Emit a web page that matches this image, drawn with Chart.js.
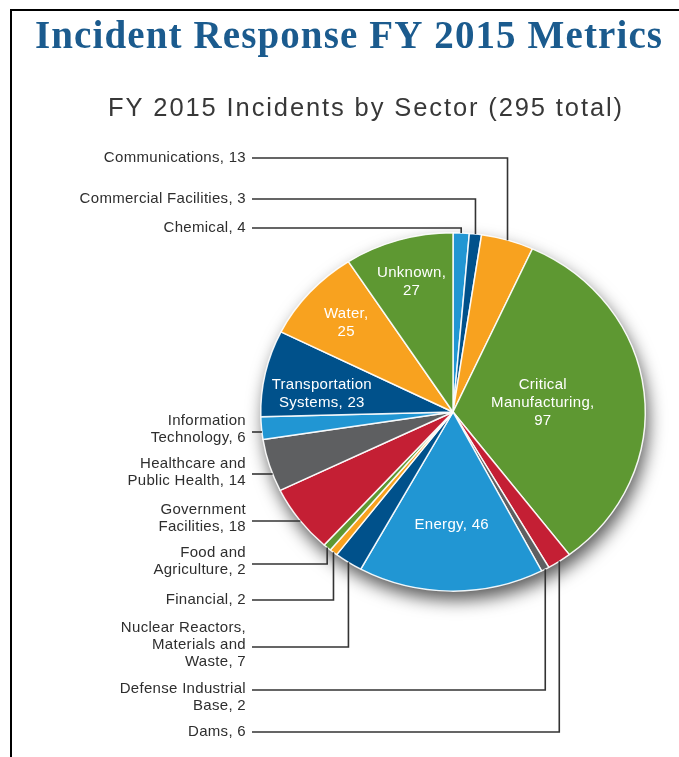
<!DOCTYPE html>
<html lang="en">
<head>
<meta charset="UTF-8">
<title>Incident Response FY 2015 Metrics</title>
<script src="https://cdn.jsdelivr.net/npm/chart.js"></script>
<style>
  html, body { margin: 0; padding: 0; background: #fff; }
  #sectorChart { display: block; }
</style>
</head>
<body>
<canvas id="sectorChart" width="679" height="757"></canvas>
<script>
// sectors run clockwise from 12 o'clock
var sectors = ['Chemical', 'Commercial Facilities', 'Communications', 'Critical Manufacturing',
  'Dams', 'Defense Industrial Base', 'Energy', 'Nuclear Reactors, Materials and Waste',
  'Financial', 'Food and Agriculture', 'Government Facilities', 'Healthcare and Public Health',
  'Information Technology', 'Transportation Systems', 'Water', 'Unknown'];
var incidents = [4, 3, 13, 97, 6, 2, 46, 7, 2, 2, 18, 14, 6, 23, 25, 27];

// how each label is written: '|' breaks a line, {v} is the count
var labelFormats = ['Chemical, {v}', 'Commercial Facilities, {v}', 'Communications, {v}',
  'Critical|Manufacturing,|{v}', 'Dams, {v}', 'Defense Industrial|Base, {v}', 'Energy, {v}',
  'Nuclear Reactors,|Materials and|Waste, {v}', 'Financial, {v}', 'Food and|Agriculture, {v}',
  'Government|Facilities, {v}', 'Healthcare and|Public Health, {v}', 'Information|Technology, {v}',
  'Transportation|Systems, {v}', 'Water,|{v}', 'Unknown,|{v}'];

var palette = ['#2196d3', '#00518b', '#f8a21f', '#5e9832', '#c41f34', '#5e5f61'];
var totalIncidents = incidents.reduce(function(a, b) { return a + b; }, 0);

// label layout: inside = fraction of radius, otherwise a left column label with a leader line
var placement = [
  { leader: 'down', y: 228, textY: 228 },
  { leader: 'down', y: 199, textY: 199 },
  { leader: 'down', y: 158, textY: 158 },
  { inside: 0.47 },
  { leader: 'up', y: 732, textY: 732 },
  { leader: 'up', y: 690, textY: 689 },
  { inside: 0.63 },
  { leader: 'up', y: 647, textY: 628 },
  { leader: 'up', y: 600, textY: 600 },
  { leader: 'up', y: 564, textY: 553 },
  { leader: 'side', y: 521, textY: 510 },
  { leader: 'side', y: 474, textY: 464 },
  { leader: 'side', y: 432, textY: 421 },
  { inside: 0.69, turn: -4 },
  { inside: 0.745 },
  { inside: 0.76 }
];

var squash = 0.932;      // pie is drawn slightly flattened
var labelRight = 246;
var lineGap = 17;

function fitText(ctx, text, x, y, width) {
  ctx.letterSpacing = '0px';
  var w = ctx.measureText(text).width;
  ctx.letterSpacing = ((width - w) / (text.length - 1)) + 'px';
  ctx.fillText(text, x, y);
  ctx.letterSpacing = '0px';
}

var decor = {
  id: 'decor',
  beforeDraw: function(chart) {
    var ctx = chart.ctx;
    ctx.save();
    ctx.fillStyle = '#fff';
    ctx.fillRect(0, 0, chart.width, chart.height);

    // frame
    ctx.strokeStyle = '#000';
    ctx.lineWidth = 2;
    ctx.beginPath();
    ctx.moveTo(chart.width, 10);
    ctx.lineTo(11, 10);
    ctx.lineTo(11, chart.height);
    ctx.stroke();

    ctx.textBaseline = 'alphabetic';
    ctx.textAlign = 'left';
    ctx.fillStyle = '#1b5b8e';
    ctx.font = 'bold 39px "Liberation Serif", serif';
    fitText(ctx, 'Incident Response FY 2015 Metrics', 35, 48, 627);

    ctx.fillStyle = '#383838';
    ctx.font = '25.5px "Liberation Sans", Arial, sans-serif';
    fitText(ctx, 'FY 2015 Incidents by Sector (' + totalIncidents + ' total)', 108, 116, 514);
    ctx.restore();
  },
  beforeDatasetsDraw: function(chart) {
    var ctx = chart.ctx;
    var arc = chart.getDatasetMeta(0).data[0];
    var cx = arc.x, cy = arc.y, r = arc.outerRadius;
    ctx.save();
    ctx.shadowColor = 'rgba(0,0,0,0.65)';
    ctx.shadowBlur = 17;
    ctx.shadowOffsetX = 3;
    ctx.shadowOffsetY = 9;
    ctx.fillStyle = '#fff';
    ctx.beginPath();
    ctx.ellipse(cx, cy, r, r * squash, 0, 0, Math.PI * 2);
    ctx.fill();
    ctx.restore();

    ctx.save();
    ctx.translate(cx, cy);
    ctx.scale(1, squash);
    ctx.translate(-cx, -cy);
  },
  afterDatasetsDraw: function(chart) {
    var ctx = chart.ctx;
    ctx.restore();

    var meta = chart.getDatasetMeta(0);
    ctx.save();
    ctx.font = '15px "Liberation Sans", Arial, sans-serif';
    ctx.textBaseline = 'middle';
    ctx.letterSpacing = '0.3px';

    meta.data.forEach(function(arc, i) {
      var p = placement[i];
      var lines = labelFormats[i].replace('{v}', incidents[i]).split('|');
      var mid = (arc.startAngle + arc.endAngle) / 2;
      var r = arc.outerRadius;

      if (p.inside) {
        var a = mid + (p.turn || 0) * Math.PI / 180;
        var x = arc.x + Math.cos(a) * r * p.inside;
        var y = arc.y + Math.sin(a) * r * p.inside * squash;
        var top = y - (lines.length - 1) * 18 / 2;
        ctx.fillStyle = '#fff';
        ctx.textAlign = 'center';
        lines.forEach(function(t, k) { ctx.fillText(t, x, top + k * 18); });
        return;
      }

      ctx.fillStyle = '#2e2e2e';
      ctx.textAlign = 'right';
      lines.forEach(function(t, k) { ctx.fillText(t, labelRight, p.textY + k * lineGap); });

      ctx.strokeStyle = '#333';
      ctx.lineWidth = 1.6;
      ctx.beginPath();
      ctx.moveTo(labelRight + 6, p.y);
      if (p.leader === 'side') {
        var dy = (p.y - arc.y) / (r * squash);
        ctx.lineTo(arc.x - r * Math.sqrt(1 - dy * dy), p.y);
      } else {
        var ex = arc.x + Math.cos(mid) * r;
        var ey = arc.y + Math.sin(mid) * r * squash;
        ctx.lineTo(ex, p.y);
        ctx.lineTo(ex, ey);
      }
      ctx.stroke();
    });
    ctx.restore();
  }
};

var ctx = document.getElementById('sectorChart').getContext('2d');
var sectorChart = new Chart(ctx, {
  type: 'pie',
  data: {
    labels: sectors,
    datasets: [{
      data: incidents,
      backgroundColor: sectors.map(function(s, i) { return palette[i % palette.length]; }),
      borderColor: 'rgba(255,255,255,0.9)',
      borderWidth: 1.5,
      clip: false
    }]
  },
  options: {
    responsive: false,
    animation: false,
    layout: { padding: { left: 260, top: 219, right: 33, bottom: 152 } },
    plugins: {
      legend: { display: false },
      tooltip: { enabled: false }
    }
  },
  plugins: [decor]
});
</script>
</body>
</html>
